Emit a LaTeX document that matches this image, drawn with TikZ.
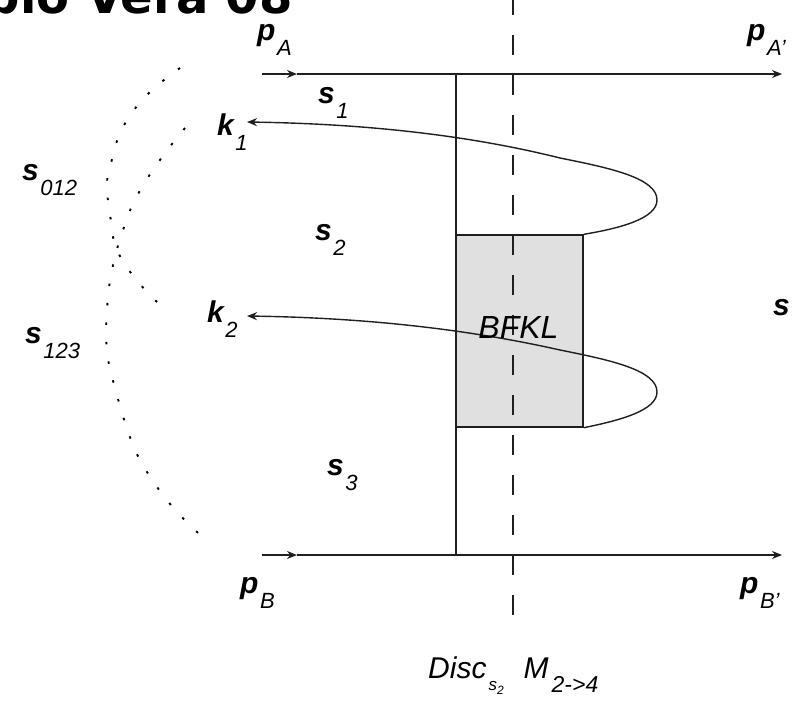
\documentclass[tikz,border=0pt]{standalone}
\usepackage{fontspec}
\setmainfont{Liberation Sans}
\newfontfamily\titlefont{DejaVu Sans}
\usetikzlibrary{arrows.meta}
\newcommand\mylab[2]{{\fontsize{30}{30}\selectfont\bfseries\itshape #1}\kern1.5pt\raisebox{-15pt}{\fontsize{22}{22}\selectfont\itshape #2}}
\begin{document}
\begin{tikzpicture}[x=1pt,y=-1pt,
  mainline/.style={line width=1.4pt, draw=black!88},
  arrowtip/.style={-{Stealth[length=10pt,width=8pt]}},
  backtip/.style={{Stealth[length=10pt,width=8pt]}-},
  dotline/.style={line width=1.9pt, draw=black, dash pattern=on 2.5pt off 17pt},
  dashline/.style={line width=1.4pt, draw=black!88, dash pattern=on 20pt off 20pt},
  lab/.style={anchor=base west, inner sep=0pt},
  bfklbox/.style={draw=black!88, line width=1.4pt, fill=black!12, minimum width=127pt, minimum height=192pt, inner sep=0pt}]
\useasboundingbox (0,0) rectangle (799,707);
% title (cropped at the top edge, as in the reference)
\begin{scope}
\clip (0,0) rectangle (799,707);
\node[anchor=base east, inner sep=0pt, text depth=0pt, font=\titlefont\fontsize{48}{48}\selectfont\bfseries] (title) at (293,13) {Sabio Vera 08};
\end{scope}
% coordinates
\coordinate (a0) at (262,74); \coordinate (am) at (297,74); \coordinate (a1) at (782,74);
\coordinate (b0) at (262,555); \coordinate (bm) at (297,555); \coordinate (b1) at (782,555);
\coordinate (vt) at (456,74); \coordinate (vb) at (456,555);
\coordinate (dt) at (513,-5); \coordinate (db) at (513,615);
\coordinate (k1tip) at (247,122); \coordinate (k2tip) at (247,316);
% BFKL box
\node[bfklbox] (box) at (519.5,331) {};
% external lines
\draw[mainline, arrowtip] (a0) -- (am);
\draw[mainline, arrowtip] (am) -- (a1);
\draw[mainline, arrowtip] (b0) -- (bm);
\draw[mainline, arrowtip] (bm) -- (b1);
\draw[mainline] (vt) -- (vb);
% k1 and k2 lines
\draw[mainline, backtip] (k1tip) .. controls (380,124) and (480,138) .. (560,158)
  .. controls (610,168) and (657,178) .. (657,200)
  .. controls (657,218) and (622,228) .. (box.north east);
\draw[mainline, backtip] (k2tip) .. controls (380,318) and (480,332) .. (560,350)
  .. controls (610,360) and (657,370) .. (657,392)
  .. controls (657,410) and (622,420) .. (box.south east);
% cut
\draw[dashline] (dt) -- (db);
% dotted invariants
\draw[dotline] plot[smooth, tension=0.7] coordinates {(180,68) (148,94) (123,127) (111,163) (107,185) (110,214) (116,247) (134,277) (162,307)};
\draw[dotline] plot[smooth, tension=0.7] coordinates {(185,128) (160,160) (137,196) (123,230) (112,270) (107,310) (107,350) (115,388) (133,445) (153,481) (178,513) (207,541)};
% labels
\node[anchor=base, inner sep=0pt, font=\fontsize{32}{32}\selectfont\itshape] (bfkl) at (518.5,338) {BFKL};
\node[lab] (pA) at (257,40) {\mylab{p}{A}};
\node[lab] (pAp) at (747,40) {\mylab{p}{A'}};
\node[lab] (s1) at (318,103) {\mylab{s}{1}};
\node[lab] (k1) at (217,135) {\mylab{k}{1}};
\node[lab] (s012) at (22,180) {\mylab{s}{012}};
\node[lab] (s2) at (315,240) {\mylab{s}{2}};
\node[lab] (k2) at (207,322) {\mylab{k}{2}};
\node[lab] (s123) at (25,343) {\mylab{s}{123}};
\node[lab, font=\fontsize{30}{30}\selectfont\bfseries\itshape] (s) at (773,315) {s};
\node[lab] (s3) at (327,475) {\mylab{s}{3}};
\node[lab] (pB) at (240,593) {\mylab{p}{B}};
\node[lab] (pBp) at (740,593) {\mylab{p}{B'}};
\node[lab] (disc) at (428,678) {{\fontsize{30}{30}\selectfont\itshape Disc}\kern2pt\raisebox{-12pt}{\fontsize{17}{17}\selectfont\itshape s\raisebox{-4pt}{\fontsize{12}{12}\selectfont 2}}\hspace{20pt}{\fontsize{30}{30}\selectfont\itshape M}\kern3pt\raisebox{-14pt}{\fontsize{23}{23}\selectfont\itshape 2->4}};
\end{tikzpicture}
\end{document}
